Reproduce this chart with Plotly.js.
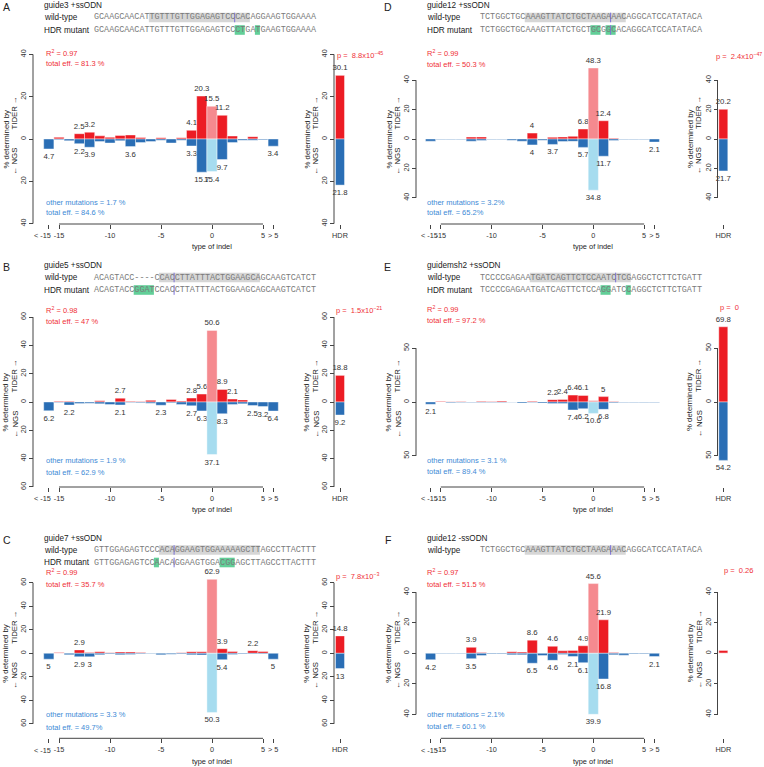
<!DOCTYPE html>
<html><head><meta charset="utf-8">
<script src="https://cdn.plot.ly/plotly-3.0.1.min.js"></script>
<style>html,body{margin:0;padding:0;background:#fff}#chart{width:764px;height:767px}</style>
</head><body><div id="chart"></div>
<script>
// ---------------- DATA ----------------
const indelTypes = [-16,-15,-14,-13,-12,-11,-10,-9,-8,-7,-6,-5,-4,-3,-2,-1,0,1,2,3,4,5,6];
const indelTickVals = [-16,-15,-10,-5,0,5,6];
const indelTickText = ["< -15","-15","-10","-5","0","5","> 5"];

const tiderA = [0,0.8,0,2.5,3.2,1.5,0.8,1.7,1.9,0.7,0,0.6,0,0.6,4.1,20.3,15.5,11.2,1.4,0,1.1,0,0];
const ngsA   = [4.7,0.3,0.8,2.2,3.9,1.2,1.9,0.8,3.6,1.7,1.2,0.6,1.9,0.6,3.3,15.7,15.4,9.7,1.7,0.6,0.6,0.4,3.4];
const tiderB = [0,0.6,0.5,0,0,0.8,0,2.7,0.5,0.3,1.2,0,1.8,0.7,2.8,5.6,50.6,8.9,2.1,1.5,0,0,0];
const ngsB   = [6.2,0.3,2.2,1.0,0.8,1.3,1.8,2.1,0.3,0.5,0.8,2.3,0.6,1.7,2.7,6.3,37.1,8.3,1.7,1.3,2.5,3.2,6.4];
const tiderC = [0,0.6,0,2.9,0.6,1.3,0.5,1.2,1.2,0.6,0,0,0,0.5,1.4,1.3,62.9,3.9,1.5,0,2.2,1.5,0];
const ngsC   = [5,0,1.2,2.9,3,1.2,0.7,1.2,1.0,0.5,0.4,1.3,0.9,0.7,1.3,1.4,50.3,5.4,1.0,0.6,0.5,0.5,5];
const tiderD = [0,0,0,0,1.3,1.4,0,0,0,0,4,0,1.2,1.4,1.8,6.8,48.3,12.4,0.5,0,0,0,0];
const ngsD   = [1.5,0.3,0.4,0.4,1.5,1.0,0.4,0.4,0.8,1.5,4,0.8,3.7,1.7,1.6,5.7,34.8,11.7,1.0,0.4,0.4,0.3,2.1];
const tiderE = [0,0.8,0.3,0.5,0,0.7,0.5,1.0,0,0,0.8,0,2.2,2.4,6.4,6.1,1.3,5,0.5,0,0,0,0];
const ngsE   = [2.1,0,0.6,0.4,0.5,0.4,0.5,0.5,0.3,1.0,0.5,1.0,1.5,1.5,7.4,6.2,10.6,6.8,0.8,0.5,0.5,0.4,0.5];
const tiderF = [0,0,0,0,3.9,0.5,0,0,1.0,0.8,8.6,0,4.6,1.6,1.9,4.9,45.6,21.9,0.5,0,0,0,0];
const ngsF   = [4.2,0.3,0.3,0.3,3.5,1.5,0.4,0.4,1.0,1.0,6.5,1.5,4.6,0.8,2.1,6.1,39.9,16.8,1.0,1.2,0.5,0.4,2.1];

const hdrTider = [30.1, 18.8, 14.8, 20.2, 69.8, 1.9];
const hdrNgs   = [21.8, 9.2, 13, 21.7, 54.2, 0];
const hdrLabel = ["HDR"];

const panelLetters = ["A","B","C","D","E","F"];
const guideLabels = ["guide3 +ssODN","guide5 +ssODN","guide7 +ssODN","guide12 +ssODN","guidemsh2 +ssODN","guide12 -ssODN"];
const wildTypeSeqs = [
  "GCAAGCAACATTGTTTGTTGGAGAGTCCCACAGGAAGTGGAAAA",
  "ACAGTACC----CCACCTTATTTACTGGAAGCAGCAAGTCATCT",
  "GTTGGAGAGTCCCACAGGAAGTGGAAAAAGCTTAGCCTTACTTT",
  "TCTGGCTGCAAAGTTATCTGCTAAGAAACAGGCATCCATATACA",
  "TCCCCGAGAATGATCAGTTCTCCAATCTCGAGGCTCTTCTGATT",
  "TCTGGCTGCAAAGTTATCTGCTAAGAAACAGGCATCCATATACA"];
const mutantSeqs = [
  "GCAAGCAACATTGTTTGTTGGAGAGTCCCTGATGAAGTGGAAAA",
  "ACAGTACCGGATCCACCTTATTTACTGGAAGCAGCAAGTCATCT",
  "GTTGGAGAGTCCAACAGGAAGTGGACGGAGCTTAGCCTTACTTT",
  "TCTGGCTGCAAAGTTATCTGCTGCGGCACAGGCATCCATATACA",
  "TCCCCGAGAATGATCAGTTCTCCAGGATCCAGGCTCTTCTGATT",
  null];
const r2Text = ["0.97","0.98","0.99","0.99","0.99","0.97"];
const tiderEffText = ["81.3 %","47 %","35.7 %","50.3 %","97.2 %","51.5 %"];
const otherMutText = ["1.7 %","1.9 %","3.3 %","3.2%","3.1 %","2.1%"];
const ngsEffText = ["84.6 %","62.9 %","49.7%","65.2%","89.4 %","60.1 %"];
const pValueText = ["8.8x10<sup>\u221245</sup>","1.5x10<sup>\u221221</sup>","7.8x10<sup>\u22123</sup>","2.4x10<sup>\u221247</sup>","0","0.26"];

const tiderValues = [tiderA, tiderB, tiderC, tiderD, tiderE, tiderF];
const ngsValues = [ngsA, ngsB, ngsC, ngsD, ngsE, ngsF];

// ---------------- GEOMETRY / STYLE ----------------
const W = 764, H = 767;
const px = v => v / W;
const py = v => 1 - v / H;
const RED = '#EC1C24', RED_L = '#F58A8F', BLUE = '#2A6EB5', BLUE_L = '#A6DCEF';
const RED_T = '#EF3037', BLUE_T = '#3D8AD6';
const FONT = 'Liberation Sans, Arial, sans-serif';
const MONO = 'Liberation Mono, monospace';

const panelCol = [0,0,0,1,1,1];
const panelRow = [0,1,2,0,1,2];
const colGeom = [
  {zx:212, u:10.2, yax:33, hdrC:340, hdrAx:334, seqX:93.3, headX:43.3, statX:45, letterX:7, firstShift:-6},
  {zx:593.3, u:10.17, yax:416, hdrC:723.3, hdrAx:717.5, seqX:479.3, headX:426, statX:426, letterX:387.5, firstShift:-1.5}];
const rowGeom = [{zy:139, head:5.5}, {zy:402, head:265.5}, {zy:653.3, head:538}];
const halfPx = 85;
const yHalf = [40.2, 60.05, 72.3, 57.8, 78.9, 55.6];
const yTickMax = [40, 60, 60, 40, 50, 40];
const yTickStep = [20, 20, 20, 20, 50, 20];
const r2Y = [53.3, 309.7, 572.3, 53.3, 309, 572.3];
const effY = [63.3, 321, 584, 64.3, 320.7, 584];
const otherY = [202.3, 460.7, 714, 202.3, 460.7, 714.3];
const ngsEffY = [212.3, 472, 727.3, 212.3, 471.7, 726.7];
const pX = [336, 335, 335, 715, 719, 723.3];
const pY = [55.3, 310, 576, 56, 307, 570];
const graySpan = [[11,30],[13,32],[13,32],[9,28],[10,29],[9,28]];
const cutIdx = [28,16,16,26,27,26];
const greenSpans = [[[28,29],[32,32]], [[8,11]], [[12,12],[25,27]], [[22,23],[25,26]], [[24,25],[29,29]], []];
const mutCut = [false,true,true,true,false,false];
const CW = 5.05, SEQ_SIZE = CW/0.6;

const traces = [], shapes = [], annotations = [];
const layout = {
  width: W, height: H, margin:{l:0,r:0,t:0,b:0}, paper_bgcolor:'#fff', plot_bgcolor:'rgba(0,0,0,0)',
  barmode:'overlay', showlegend:false, font:{family:FONT, color:'#222'}
};

function ann(x, y, text, opts) {
  annotations.push(Object.assign({xref:'paper', yref:'paper', x:px(x), y:py(y), text:text,
    showarrow:false, xanchor:'left', yanchor:'middle', borderpad:0,
    font:{family:FONT, size:7.6, color:'#222'}}, opts || {}));
}

for (let p = 0; p < 6; p++) {
  const cg = colGeom[panelCol[p]], rg = rowGeom[panelRow[p]];
  const iM = 2*p + 1, iH = 2*p + 2;
  const xM = 'x' + (iM === 1 ? '' : iM), yM = 'y' + (iM === 1 ? '' : iM);
  const xH = 'x' + iH, yH = 'y' + iH;
  const keyXM = 'xaxis' + (iM === 1 ? '' : iM), keyYM = 'yaxis' + (iM === 1 ? '' : iM);
  const keyXH = 'xaxis' + iH, keyYH = 'yaxis' + iH;
  const yDom = [py(rg.zy + halfPx), py(rg.zy - halfPx)];
  const yTicks = [];
  for (let v = -yTickMax[p]; v <= yTickMax[p] + 1e-9; v += yTickStep[p]) yTicks.push(v);

  const tider = tiderValues[p], ngs = ngsValues[p];
  const lbl = v => (v >= 2 ? String(v) : '');
  const common = {type:'bar', hoverinfo:'skip', textposition:'outside', textangle:0,
    cliponaxis:false, constraintext:'none', textfont:{family:FONT, size:7.8, color:'#333'}};
  const edge = {color:'rgba(255,255,255,0.7)', width:0.6};
  traces.push(Object.assign({}, common, {x: indelTypes, y: tider, width: 1, xaxis:xM, yaxis:yM,
    text: tider.map(lbl), marker:{color: indelTypes.map(t => t === 0 ? RED_L : RED), line:edge}}));
  traces.push(Object.assign({}, common, {x: indelTypes, y: ngs.map(v => -v), width: 1, xaxis:xM, yaxis:yM,
    text: ngs.map(lbl), marker:{color: indelTypes.map(t => t === 0 ? BLUE_L : BLUE), line:edge}}));
  traces.push(Object.assign({}, common, {x: hdrLabel, y: [hdrTider[p]], width: 0.9, xaxis:xH, yaxis:yH,
    text: [lbl(hdrTider[p])], marker:{color: RED, line:edge}}));
  traces.push(Object.assign({}, common, {x: hdrLabel, y: [-hdrNgs[p]], width: 0.9, xaxis:xH, yaxis:yH,
    text: [lbl(hdrNgs[p])], marker:{color: BLUE, line:edge}}));

  const tickStyle = {ticks:'outside', ticklen:4, tickwidth:1, tickcolor:'#444',
    tickfont:{family:FONT, size:7.3, color:'#333'}, showgrid:false, zeroline:false, showline:false, fixedrange:true};
  // first tick label ("< -15") drawn as annotation so it can sit slightly left of its tick
  const tt = indelTickText.map((t, i) => i === 0 ? '' : t);
  layout[keyXM] = Object.assign({}, tickStyle, {domain:[px(cg.zx - 17*cg.u), px(cg.zx + 7*cg.u)], range:[-17,7],
    anchor:yM, tickmode:'array', tickvals: indelTickVals, ticktext: tt, tickangle:0});
  annotations.push({xref:xM, yref:yM + ' domain', x:indelTickVals[0], y:0, xshift:cg.firstShift, yshift:-11.8,
    text:indelTickText[0], showarrow:false, xanchor:'center', yanchor:'middle', borderpad:0,
    font:{family:FONT, size:7.3, color:'#333'}});
  layout[keyYM] = Object.assign({}, tickStyle, {domain:yDom, range:[-yHalf[p], yHalf[p]], anchor:'free',
    position: px(cg.yax), tickmode:'array', tickvals: yTicks, ticktext: yTicks.map(v => String(Math.abs(v))), tickangle:-90});
  layout[keyXH] = Object.assign({}, tickStyle, {domain:[px(cg.hdrC - 12), px(cg.hdrC + 12)], range:[-1.2,1.2],
    anchor:yH, type:'category', tickangle:0});
  layout[keyYH] = Object.assign({}, tickStyle, {domain:yDom, range:[-yHalf[p], yHalf[p]], anchor:'free',
    position: px(cg.hdrAx), tickmode:'array', tickvals: yTicks, ticktext: yTicks.map(v => String(Math.abs(v))), tickangle:-90});

  // axis lines
  const ln = {color:'#444', width:1};
  shapes.push({type:'line', xref:xM, yref:yM + ' domain', x0:-15, x1:5, y0:0, y1:0, line:ln});
  shapes.push({type:'line', xref:'paper', yref:yM, x0:px(cg.yax), x1:px(cg.yax), y0:-yTickMax[p], y1:yTickMax[p], line:ln});
  shapes.push({type:'line', xref:'paper', yref:yH, x0:px(cg.hdrAx), x1:px(cg.hdrAx), y0:-yTickMax[p], y1:yTickMax[p], line:ln});

  // y titles
  [cg.yax, cg.hdrAx].forEach(ax => {
    ann(ax - 27.5, rg.zy, '% determined by', {xanchor:'center', textangle:-90, font:{family:FONT, size:7.8, color:'#222'}});
    ann(ax - 18.5, rg.zy - 26, 'TIDER \u2192', {xanchor:'center', textangle:-90, font:{family:FONT, size:7.8, color:'#222'}});
    ann(ax - 18.5, rg.zy + 22, '\u2190 NGS', {xanchor:'center', textangle:-90, font:{family:FONT, size:7.8, color:'#222'}});
  });
  // x title
  ann(cg.zx, rg.zy + halfPx + 22.7, 'type of indel', {xanchor:'center', font:{family:FONT, size:7.4, color:'#222'}});

  // stats
  ann(cg.statX, r2Y[p], 'R<sup>2</sup> = ' + r2Text[p], {font:{family:FONT, size:7.5, color:RED_T}});
  ann(cg.statX, effY[p], 'total eff. = ' + tiderEffText[p], {font:{family:FONT, size:7.5, color:RED_T}});
  ann(cg.statX, otherY[p], 'other mutations = ' + otherMutText[p], {font:{family:FONT, size:7.5, color:BLUE_T}});
  ann(cg.statX, ngsEffY[p], 'total eff. = ' + ngsEffText[p], {font:{family:FONT, size:7.5, color:BLUE_T}});
  ann(pX[p], pY[p], 'p =  ' + pValueText[p], {font:{family:FONT, size:7.5, color:RED_T}});

  // header
  ann(cg.letterX, rg.head + 1.5, panelLetters[p], {xanchor:'center', font:{family:FONT, size:10.5, color:'#222'}});
  ann(cg.headX, rg.head, guideLabels[p], {font:{family:FONT, size:8.2, color:'#222'}});
  ann(cg.headX, rg.head + 12, 'wild-type', {font:{family:FONT, size:8.2, color:'#222'}});
  const wtY = rg.head + 12, mutY = rg.head + 24.5;
  const gs = graySpan[p];
  shapes.push({type:'rect', xref:'paper', yref:'paper', layer:'below', x0:px(cg.seqX + gs[0]*CW), x1:px(cg.seqX + (gs[1]+1)*CW),
    y0:py(wtY + 4.8), y1:py(wtY - 4.8), fillcolor:'#d6d6d6', line:{width:0}});
  ann(cg.seqX, wtY, wildTypeSeqs[p], {font:{family:MONO, size:SEQ_SIZE, color:'#7a7a7a'}});
  shapes.push({type:'line', xref:'paper', yref:'paper', layer:'above', x0:px(cg.seqX + cutIdx[p]*CW), x1:px(cg.seqX + cutIdx[p]*CW),
    y0:py(wtY + 4.8), y1:py(wtY - 4.8), line:{color:'#7d72d8', width:1}});
  if (mutantSeqs[p]) {
    ann(cg.headX, mutY, 'HDR mutant', {font:{family:FONT, size:8.2, color:'#222'}});
    greenSpans[p].forEach(g => shapes.push({type:'rect', xref:'paper', yref:'paper', layer:'below',
      x0:px(cg.seqX + g[0]*CW), x1:px(cg.seqX + (g[1]+1)*CW), y0:py(mutY + 4.8), y1:py(mutY - 4.8), fillcolor:'#62cf98', line:{width:0}}));
    ann(cg.seqX, mutY, mutantSeqs[p], {font:{family:MONO, size:SEQ_SIZE, color:'#7a7a7a'}});
    if (mutCut[p]) shapes.push({type:'line', xref:'paper', yref:'paper', layer:'above', x0:px(cg.seqX + cutIdx[p]*CW), x1:px(cg.seqX + cutIdx[p]*CW),
      y0:py(mutY + 4.8), y1:py(mutY - 4.8), line:{color:'#7d72d8', width:1}});
  }
}
layout.shapes = shapes;
layout.annotations = annotations;
Plotly.newPlot('chart', traces, layout, {staticPlot:true, displayModeBar:false});
</script></body></html>
